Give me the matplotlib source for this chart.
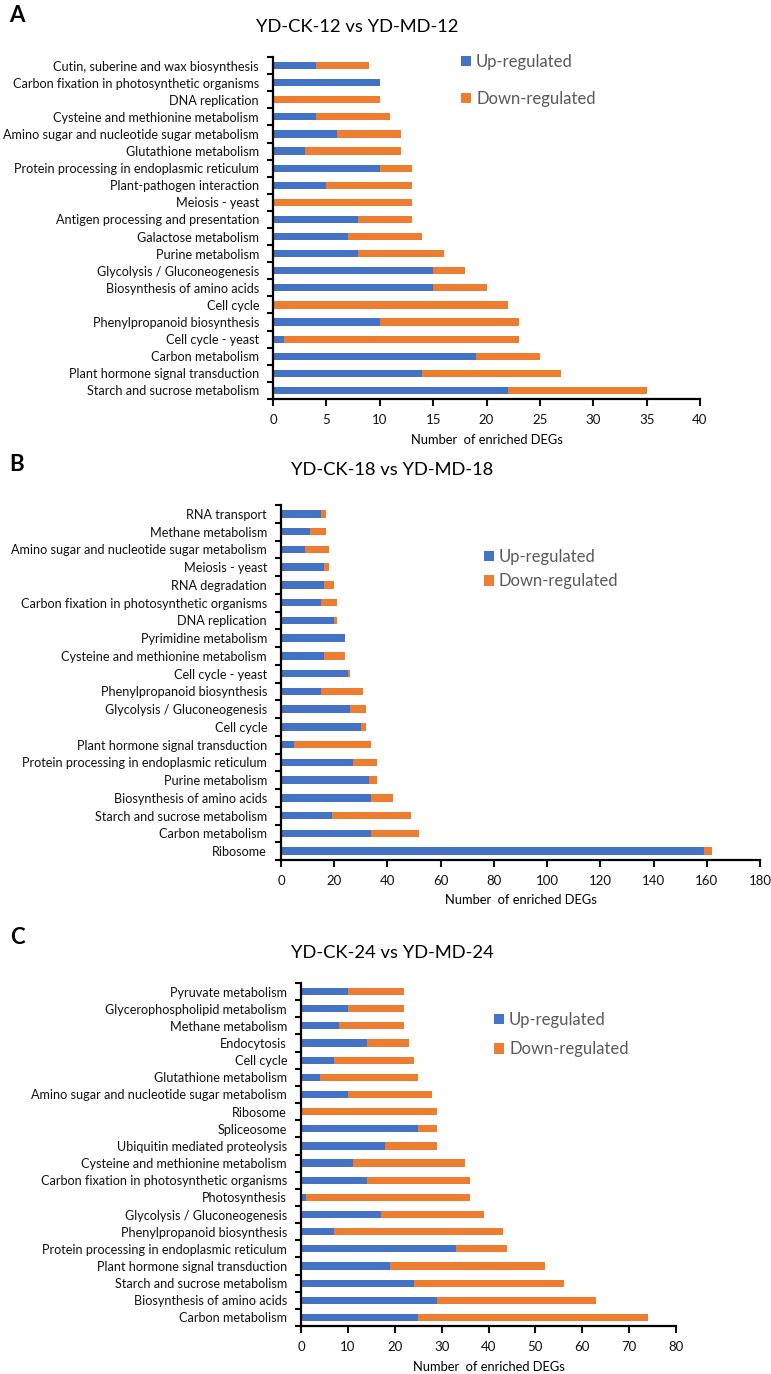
import numpy as np
import matplotlib
matplotlib.use('Agg')
import matplotlib.pyplot as plt

plt.rcParams['font.family'] = ['Lato', 'DejaVu Sans']

BLUE = '#4472C4'
ORANGE = '#ED7D31'

# categories listed bottom to top (Excel order)
a_terms = ['Starch and sucrose metabolism', 'Plant hormone signal transduction', 'Carbon metabolism',
           'Cell cycle - yeast', 'Phenylpropanoid biosynthesis', 'Cell cycle', 'Biosynthesis of amino acids',
           'Glycolysis / Gluconeogenesis', 'Purine metabolism', 'Galactose metabolism',
           'Antigen processing and presentation', 'Meiosis - yeast', 'Plant-pathogen interaction',
           'Protein processing in endoplasmic reticulum', 'Glutathione metabolism',
           'Amino sugar and nucleotide sugar metabolism', 'Cysteine and methionine metabolism',
           'DNA replication', 'Carbon fixation in photosynthetic organisms', 'Cutin, suberine and wax biosynthesis']
a_up = [22, 14, 19, 1, 10, 0, 15, 15, 8, 7, 8, 0, 5, 10, 3, 6, 4, 0, 10, 4]
a_down = [13, 13, 6, 22, 13, 22, 5, 3, 8, 7, 5, 13, 8, 3, 9, 6, 7, 10, 0, 5]

b_terms = ['Ribosome', 'Carbon metabolism', 'Starch and sucrose metabolism', 'Biosynthesis of amino acids',
           'Purine metabolism', 'Protein processing in endoplasmic reticulum', 'Plant hormone signal transduction',
           'Cell cycle', 'Glycolysis / Gluconeogenesis', 'Phenylpropanoid biosynthesis', 'Cell cycle - yeast',
           'Cysteine and methionine metabolism', 'Pyrimidine metabolism', 'DNA replication',
           'Carbon fixation in photosynthetic organisms', 'RNA degradation', 'Meiosis - yeast',
           'Amino sugar and nucleotide sugar metabolism', 'Methane metabolism', 'RNA transport']
b_up = [159, 34, 19, 34, 33, 27, 5, 30, 26, 15, 25, 16, 24, 20, 15, 16, 16, 9, 11, 15]
b_down = [3, 18, 30, 8, 3, 9, 29, 2, 6, 16, 1, 8, 0, 1, 6, 4, 2, 9, 6, 2]

c_terms = ['Carbon metabolism', 'Biosynthesis of amino acids', 'Starch and sucrose metabolism',
           'Plant hormone signal transduction', 'Protein processing in endoplasmic reticulum',
           'Phenylpropanoid biosynthesis', 'Glycolysis / Gluconeogenesis', 'Photosynthesis',
           'Carbon fixation in photosynthetic organisms', 'Cysteine and methionine metabolism',
           'Ubiquitin mediated proteolysis', 'Spliceosome', 'Ribosome',
           'Amino sugar and nucleotide sugar metabolism', 'Glutathione metabolism', 'Cell cycle',
           'Endocytosis', 'Methane metabolism', 'Glycerophospholipid metabolism', 'Pyruvate metabolism']
c_up = [25, 29, 24, 19, 33, 7, 17, 1, 14, 11, 18, 25, 0, 10, 4, 7, 14, 8, 10, 10]
c_down = [49, 34, 32, 33, 11, 36, 22, 35, 22, 24, 11, 4, 29, 18, 21, 17, 9, 14, 12, 12]

W, H = 771, 1374
fig = plt.figure(figsize=(W / 100, H / 100), dpi=100)


def px(x0, y_top, x1, y_bot):
    return [x0 / W, 1 - y_bot / H, (x1 - x0) / W, (y_bot - y_top) / H]


def panel(rect, terms, up, down, xmax, step, title, title_xy, letter, letter_y,
          xlab_y, leg_xy, leg_space):
    ax = fig.add_axes(px(*rect))
    y = np.arange(len(terms))
    ax.barh(y, up, height=0.42, color=BLUE, label='Up-regulated')
    ax.barh(y, down, left=up, height=0.42, color=ORANGE, label='Down-regulated')
    ax.set_ylim(-0.5, len(terms) - 0.5)
    ax.set_xlim(0, xmax)
    ax.set_xticks(np.arange(0, xmax + 1, step))
    ax.set_yticks(y)
    ax.set_yticklabels(terms, fontsize=9.1, color='#111111')
    ax.set_yticks(np.arange(-0.5, len(terms)), minor=True)
    ax.tick_params(axis='y', which='major', length=0, pad=10)
    ax.tick_params(axis='y', which='minor', length=4, width=1.5, direction='out')
    ax.tick_params(axis='x', length=5, width=1.5, labelsize=9.5, pad=6, colors='#111111')
    for s in ['top', 'right']:
        ax.spines[s].set_visible(False)
    for s in ['left', 'bottom']:
        ax.spines[s].set_linewidth(1.6)
    fig.text(title_xy[0] / W, 1 - title_xy[1] / H, title, fontsize=13.2, ha='center', va='center')
    fig.text(17 / W, 1 - letter_y / H, letter, fontsize=16, fontweight='bold', ha='center', va='center')
    fig.text((rect[0] + rect[2]) / 2 / W, 1 - xlab_y / H, 'Number  of enriched DEGs',
             fontsize=9.3, ha='center', va='center')
    ax.legend(loc='upper left', bbox_to_anchor=(leg_xy[0] / W, 1 - leg_xy[1] / H),
              bbox_transform=fig.transFigure, frameon=False, fontsize=12,
              handlelength=0.6, handleheight=0.6, handletextpad=0.3,
              labelspacing=leg_space, labelcolor='#595959', borderpad=0, borderaxespad=0)
    return ax


panel((273, 57, 700, 399), a_terms, a_up, a_down, 40, 5, 'YD-CK-12 vs YD-MD-12', (357, 27), 'A', 16,
      440, (461, 54), 1.25)
panel((281, 505, 760, 860), b_terms, b_up, b_down, 180, 20, 'YD-CK-18 vs YD-MD-18', (392, 470), 'B', 464,
      900, (484, 549), 0.5)
panel((301, 983, 676, 1326), c_terms, c_up, c_down, 80, 10, 'YD-CK-24 vs YD-MD-24', (392, 953), 'C', 937,
      1367, (494, 1012), 0.8)

fig.savefig('out.png', dpi=100)
